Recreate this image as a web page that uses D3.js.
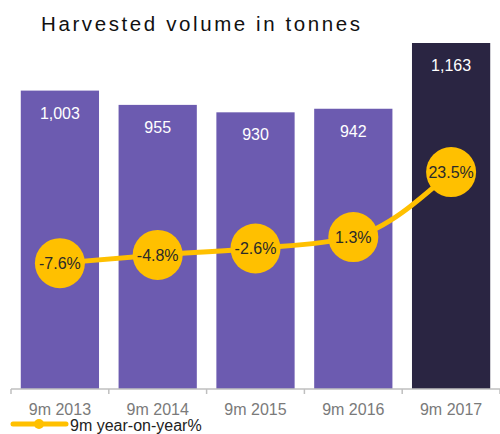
<!DOCTYPE html>
<html>
<head>
<meta charset="utf-8">
<script src="https://cdnjs.cloudflare.com/ajax/libs/d3/7.8.5/d3.min.js"></script>
<style>
  body { margin: 0; background: #fff; }
  svg { display: block; font-family: "Liberation Sans", Arial, sans-serif; }
</style>
</head>
<body>
<svg id="chart" width="500" height="434"></svg>
<script>
// chart values
const categories = ['9m 2013', '9m 2014', '9m 2015', '9m 2016', '9m 2017'];
const volumes = [1003, 955, 930, 942, 1163];
const volumeLabels = ['1,003', '955', '930', '942', '1,163'];
const yoyPct = [-7.6, -4.8, -2.6, 1.3, 23.5];
const yoyLabels = ['-7.6%', '-4.8%', '-2.6%', '1.3%', '23.5%'];

const svg = d3.select('#chart');
const baseY = 389;

const x = d3.scaleBand().domain(categories).range([11, 500])
    .paddingInner(0.2).paddingOuter(0.1);
const y = d3.scaleLinear().domain([0, 1163]).range([baseY, 43]);
// secondary axis for the year-on-year line
const yPct = d3.scaleLinear().domain([-50.6, 67.6]).range([baseY, 43]);

// title
svg.append('text')
    .attr('x', 41).attr('y', 31)
    .attr('font-size', 20.5).attr('letter-spacing', 2.6)
    .attr('fill', '#111')
    .text('Harvested volume in tonnes');

// bars
svg.selectAll('rect.bar').data(categories).enter().append('rect')
    .attr('class', 'bar')
    .attr('x', d => x(d))
    .attr('width', x.bandwidth())
    .attr('y', (d, i) => y(volumes[i]))
    .attr('height', (d, i) => baseY - y(volumes[i]))
    .attr('fill', (d, i) => i === categories.length - 1 ? '#2A2542' : '#6C5BB0');

svg.selectAll('text.vol').data(categories).enter().append('text')
    .attr('class', 'vol')
    .attr('x', d => x(d) + x.bandwidth() / 2)
    .attr('y', (d, i) => y(volumes[i]) + 28)
    .attr('text-anchor', 'middle')
    .attr('font-size', 16)
    .attr('fill', '#fff')
    .text((d, i) => volumeLabels[i]);

// axis line and ticks on band edges
svg.append('line')
    .attr('x1', 11).attr('x2', 500).attr('y1', baseY).attr('y2', baseY)
    .attr('stroke', '#bfbfbf').attr('stroke-width', 1.5);
let edges = categories.map(d => x(d) - x.step() * x.paddingInner() / 2);
edges.push(500);
edges[0] = 11;
svg.selectAll('line.tick').data(edges).enter().append('line')
    .attr('class', 'tick')
    .attr('x1', d => d).attr('x2', d => d)
    .attr('y1', baseY).attr('y2', baseY + 5)
    .attr('stroke', '#bfbfbf').attr('stroke-width', 1.5);

svg.selectAll('text.cat').data(categories).enter().append('text')
    .attr('class', 'cat')
    .attr('x', d => x(d) + x.bandwidth() / 2)
    .attr('y', 415)
    .attr('text-anchor', 'middle')
    .attr('font-size', 16)
    .attr('fill', '#7a7a7a')
    .text(d => d);

// year-on-year line
const line = d3.line()
    .x((d, i) => x(categories[i]) + x.bandwidth() / 2)
    .y(d => yPct(d))
    .curve(d3.curveMonotoneX);

svg.append('path')
    .datum(yoyPct)
    .attr('d', line)
    .attr('fill', 'none')
    .attr('stroke', '#FFC000')
    .attr('stroke-width', 5);

svg.selectAll('circle.yoy').data(yoyPct).enter().append('circle')
    .attr('class', 'yoy')
    .attr('cx', (d, i) => x(categories[i]) + x.bandwidth() / 2)
    .attr('cy', d => yPct(d))
    .attr('r', 25)
    .attr('fill', '#FFC000');

svg.selectAll('text.yoy').data(yoyPct).enter().append('text')
    .attr('class', 'yoy')
    .attr('x', (d, i) => x(categories[i]) + x.bandwidth() / 2)
    .attr('y', d => yPct(d) + 6)
    .attr('text-anchor', 'middle')
    .attr('font-size', 16)
    .attr('fill', '#2a2a2a')
    .text((d, i) => yoyLabels[i]);

// legend
svg.append('line')
    .attr('x1', 13).attr('x2', 66).attr('y1', 424).attr('y2', 424)
    .attr('stroke', '#FFC000').attr('stroke-width', 5)
    .attr('stroke-linecap', 'round');
svg.append('circle')
    .attr('cx', 39).attr('cy', 424).attr('r', 5).attr('fill', '#FFC000');
svg.append('text')
    .attr('x', 70).attr('y', 431)
    .attr('font-size', 16).attr('fill', '#222')
    .text('9m year-on-year%');
</script>
</body>
</html>
